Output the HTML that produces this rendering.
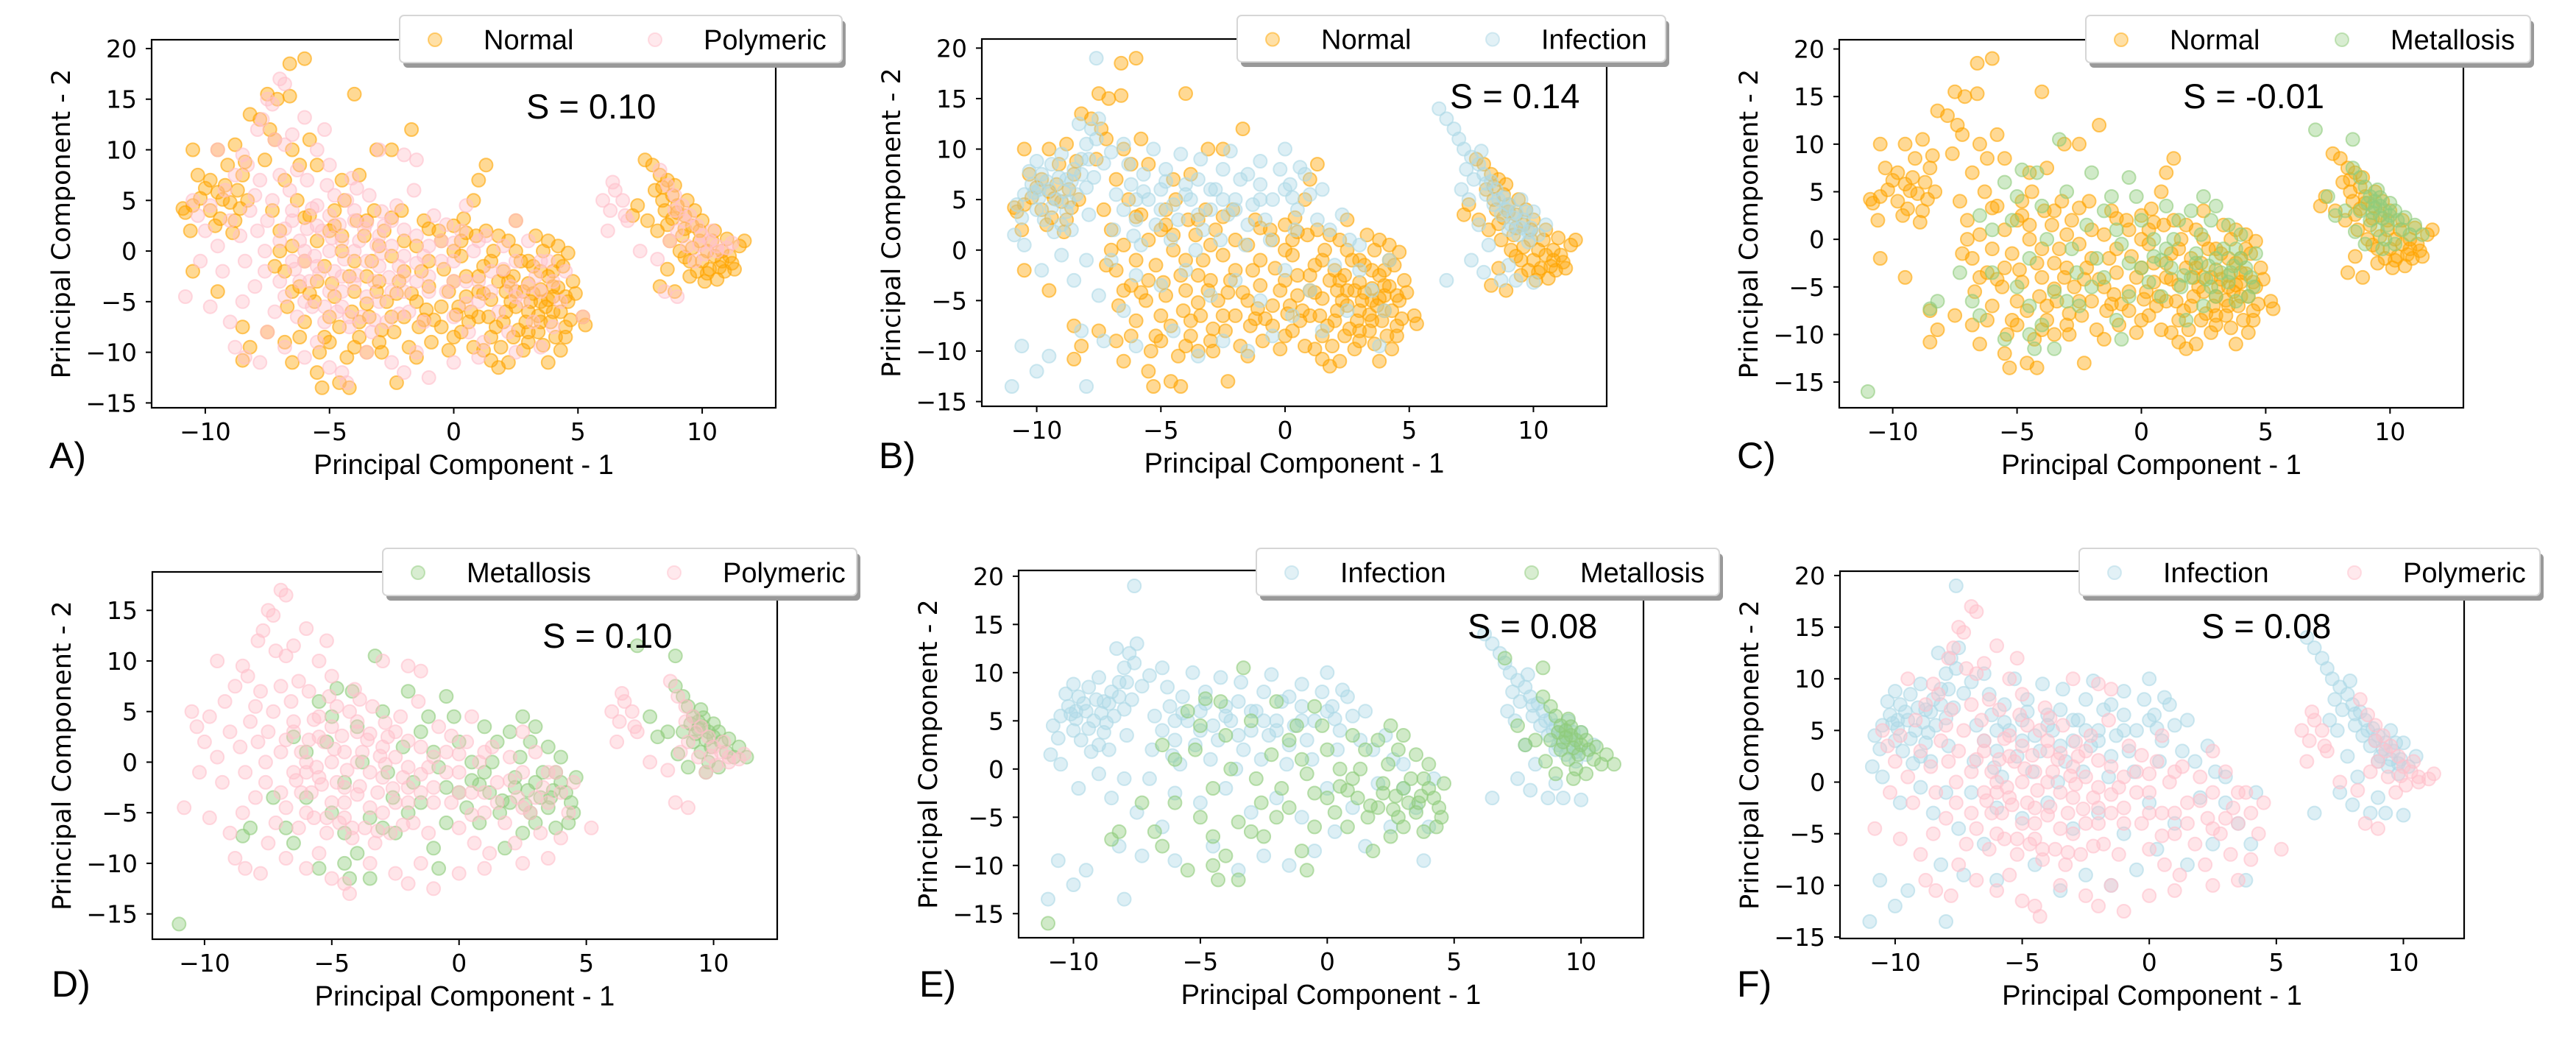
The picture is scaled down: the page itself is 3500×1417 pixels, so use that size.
<!DOCTYPE html>
<html><head><meta charset="utf-8">
<style>
html,body{margin:0;padding:0;background:#fff;}
svg{display:block;}
.tick{font-family:"DejaVu Sans",sans-serif;font-size:33px;fill:#000;}
.lab{font-family:"Liberation Sans",sans-serif;fill:#000;}
</style></head>
<body>
<svg id="fig" width="3500" height="1417" viewBox="0 0 3500 1417" xmlns="http://www.w3.org/2000/svg"></svg>
<script>
// ---- data (PC1, PC2 pairs) ----
const normalPts = [
-10.5,4.5,-10.2,5.2,-9.8,4,-9.5,5.8,-9.2,6.5,-9,4.8,-8.7,6,-8.5,7.5,-9.8,7,-10,6.2,-10.8,3.8,-10.6,2,-9.4,3.2,-8.8,3,-8.3,5,-9.1,8.5,-8.4,8.8,-10.3,7.5,-9.6,2.5,-8.9,1.8,-10.9,4.2,-9.3,5.1,-8.6,4.2,
-6.6,18.5,-6,19,-7.5,15.5,-7.1,15,-6.6,15.3,-8.2,13.5,-7.8,13,-7.4,12,-7.2,11,-8.8,10.5,-9.5,10,-10.5,10,-7.6,9,-6.5,10,-5.8,11,-6.2,8.5,-4,15.5,-1.7,12,-3.1,10,-2.5,10,-5.5,8.5,-4.5,7,-3.8,7.5,-6.8,7,1.3,8.5,1,7,0.8,5,
-10.5,-2,-9.5,-4,-8.5,-7.5,-8.2,-9.5,-8.5,-10.8,-7.5,-8,-6.8,-9,-6.5,-11,-5.5,-12,-5.3,-13.5,-4.6,-13,-4.2,-13.5,-2.3,-13,1.8,-11.5,2.2,-11,1.5,-10.8,3.8,-11,5.3,-7.3,5.2,-6.5,
-7,2,-6.5,0.5,-6.8,-2,-6.2,-3.5,-5.8,3.5,-5.5,1,-5.2,-1.5,-5.6,-5,-6,-7,-5.2,-8.5,-5.4,-10,-6.3,5,-7.3,4,-6.7,-5.5,
-4.8,2.5,-4.5,0,-4.2,-2.5,-4.8,-4.5,-4.1,-6,-4.6,-7.5,-3.8,-8.5,-3.5,-10,-4.3,-10.5,-3.2,4,-3.6,1.5,-3.3,-1,-3.1,-4,-3.4,-6.5,-2.9,-7.8,-3.9,3,-4.4,5,
-2.8,2,-2.5,-0.5,-2.2,-3,-2.7,-5,-2,-6.5,-2.4,-8,-1.8,-9.5,-1.5,-10.5,-2.9,-10,-1.2,3,-1.5,0.5,-1.3,-2,-1.7,-4.2,-1.1,-5.8,-1.4,-7.5,-2.1,4,-0.6,2,-0.9,-9,
-0.5,1,0,2.5,0.3,-0.5,0.5,-2.5,-0.2,-4,0.2,-5.5,0.6,-7,0,-8.5,0.8,-9.5,0.4,3.2,0.9,1.5,-0.4,-1.8,1,-4,0.7,-6,
1.3,2,1.6,0,1.2,-1.5,1.8,-3,1.5,-4.8,2.1,-6,1.7,-7.5,2.4,-8.5,1.9,-9.5,2.5,3,2.2,1,2.7,-1,2.4,-2.5,2.8,-4,2.5,-5.5,2.9,-7,3,-9,2.1,-4,
3.3,1.5,3.6,0,3.2,-1.5,3.8,-2.5,3.5,-3.8,4,-4.5,3.7,-5.5,4.3,-6,3.9,-7,4.5,-7.5,3.4,-8,4.1,-8.5,4.6,-5,4.8,-3,4.4,-1.5,4.2,0.5,3.1,-5,4.7,-6.8,4.9,-4.2,3.6,-9.3,4.3,-9.8,
3,-3.2,3.4,-6.4,4.2,-3.6,2.6,-7.8,3.8,-4.8,2.3,-5,4,-2,1.4,-6.5,0.3,-8,-0.8,-6.8,
-6,-1,-5.5,-3,-5,2,-5,-6.5,-4.5,1.5,-4,-1,-4,-4,-3.5,-2.5,-3.5,-5.2,-3,0.5,-3,-3,-2.5,-6.5,-2,1,-2,-2,-1.5,-5,-1,-1,-1,-3.5,-0.5,-5.5,-0.5,-7.5,0,0,0,-3,0.5,-4.5,0.5,1.8,1,-2.5,1,-6.5,1.5,-1,1.5,-8.5,2,-2,2,-7,2.5,0,2.5,-4,3,-1,3,-6,3,-8,3.5,-2,3.5,-5,3.5,-7,4,-3.5,4,-6,4.5,-4.5,4.5,-8.5,4.2,-1,2.8,-9.8,1.2,-9.8,-0.2,-9.8,-3,-9,-4,-9.5,-5,-9,-6.2,-8.5,-6.5,-4,-7,0,-7.2,-1.5,-6,3.3,-4.8,4,-3.5,3,-2.5,3.3,-1,2.2,0.3,1,1.8,1.5,3.8,1,4.6,-0.2,3.2,-4.2,2.2,-3,1.2,-4.2,0.1,-6.3,-1.2,-6.8,-2.3,-4.2,-3.8,-7,-4.9,-3.2,-5.8,-4.2,
8,8.5,8.3,7.5,8.6,7,8.1,6,8.8,5.5,9,4.5,8.5,4,9.3,3.5,9.6,2.5,9.2,1.5,9.9,1,10.2,0,10.5,-0.5,10.8,-1,11.2,-1.2,11.5,0.5,11.7,1,11,1.2,10.5,2,10,3,9.7,4,9.4,5,8.9,6.5,7.7,9,7.4,4.5,7.2,3.5,7.8,3,8.2,2,8.7,1,9.1,0,9.5,-1,9.8,-2,10.3,-1.8,10.9,-2,11.3,-1.8,8.3,-3.5,8.9,-4,9.5,-2.5,10.1,-3,10.6,-2.8,8.6,-1.8,9.3,-0.6,
8.4,5,8.8,3.2,9.3,2.2,9.6,0.3,10,-1,10.4,1,10.8,0,11.1,-0.5,9,3.8,8.4,6.3,9.9,2,10.7,-1.6,10.2,-2.2,8.6,2.6
];
const infectionPts = [
-10.8,4.5,-10.5,5.5,-10.2,6.5,-9.8,7.5,-9.5,6,-9.2,5,-9.4,8.5,-9,9.5,-8.8,7,-8.5,8,-8.2,9,-8,10.5,-7.8,12,-7.6,11,-7.5,13,-8.3,12.5,-10,4,-9.7,3,-9.9,5.2,-10.6,3.2,-10.9,1.5,-9,2.5,-8.7,4.8,-8.4,5.5,-8,6.2,-7.7,7.2,-7.3,8.6,-7,9.7,-6.5,10.5,-7.9,3.5,-9.3,1.8,-8.6,2,-10.3,7.8,-10,8.8,
-9.6,6.8,-9.1,7.2,-9.4,4.2,-8.9,5.8,-10.1,5.7,-8.6,6.8,-8.2,7.5,-7.9,9,-8.8,3.8,-9.9,6,
-6.8,5.5,-6.5,4,-6.2,6.5,-6,3,-5.7,7.5,-5.5,5,-5.2,2.5,-5,6,-4.8,8,-4.5,4.5,-4.3,3,-4,6.5,-3.8,5,-3.5,7,-3.3,2,-3,4,-2.8,6,-2.5,8,-2.3,3.5,-2,5,-1.8,7,-1.5,2.5,-1.3,4.5,-1,6.5,-0.8,3,-0.5,5,-0.2,8,0,10,0.2,6.5,0.5,4,0.8,7.5,1,5.5,1.3,3,1.5,6,-5.8,0.5,-4.6,1,-3.6,0,-2.6,1,-1.6,0.5,-0.6,1,0.4,2,1.8,2,2.3,3.5,2.6,1,-6.3,8.5,-5.3,10,-4.2,9.5,-3.4,9,-2.2,9.8,-1,8.8,0.6,8.2,-6.9,2,-6.1,1.4,
-6,5,-5,4,-4,5.5,-3,6,-2,4,-1,5,0,6,-3.5,3.5,-2.5,5,-4.8,6.8,-5.7,5.8,-1.5,7.5,0.3,5.2,
-7,-1,-6,-2.5,-5,-3.5,-4,-2,-3,-4.5,-2,-3,-1,-5,0,-2,1,-4,2,-1.5,3,-2,3.5,-4,4,-6,2.5,-6,1.5,-8,-0.5,-8.5,-2.5,-9,-4.5,-8,-6.5,-6,-7.5,-4.5,-8.5,-3,-8,-1,-9,-0.5,-10.5,0.5,-9.8,-2,-7.3,-9,-8.2,-8,-6,-9.5,-3.5,-10.5,-1.5,-10,3.8,-9.5,4.2,-1,3,0.5,0.3,-6.5,
-11,-13.5,-10,-12,-8,-13.5,-10.6,-9.5,-7.6,19,-9.5,-10.5,
6.2,14,6.5,13,6.8,12,7,11,7.2,10,7.5,9.2,7.8,8.5,8,7.5,8.3,6.8,8.5,6,8.8,5.2,9,4.5,9.3,3.8,9.6,3,9.9,2.2,10.2,1.5,7.3,8,7.6,7,8.1,5.5,8.4,4.5,8.7,3.5,9.1,2.5,9.4,1.5,9.8,0.8,10.5,2.5,10,3.8,9.5,5,7.9,9.8,7.1,6,7.4,5,7.8,2.5,8.2,0.5,6.5,-3,8,-2.2,8.7,-3,9.3,-3,10,-3.2,7.5,-1,9,-1.5,
8.9,4,9.2,3.2,9.5,2.2,8.6,5,8.1,6.6,9.8,1.8,9,2,9.7,3.8
];
const polymericPts = [
-7,17,-6.8,16.5,-7.3,14.5,-7.5,15,-7.7,13,-7.9,12,-7.2,11,-6.5,11.5,-6.8,10.5,-8.5,9.5,-9.5,10,-8.3,8.5,-5.5,10,-5,8.5,-3,10,-2,9.5,-1.5,9,-5.2,12,-6,13.2,
-10.5,5,-10.3,3.5,-10,2,-9.8,4.5,-9.5,0.5,-9.3,-2,-9,3,-9.2,6,-8.8,7.5,-8.6,1.5,-8.4,-1,-8.2,4,-8,-3.5,-8.5,-5,-10.8,-4.5,-9.8,-5.5,-9,-7,-8.8,-9.5,-8.4,-10.5,-7.8,-11,-7.5,-8,-7.2,-6,-7.6,-2,-7.9,2,-7.3,5,-7,7.5,-10.2,-1,
-6.5,3,-6.2,1,-6,-1,-5.8,-3,-5.5,4.5,-5.3,2,-5,0,-4.8,-2,-4.5,-4,-4.3,5,-4,3,-3.8,1,-3.5,-1,-3.2,-3,-3,-5,-2.8,2.5,-2.5,0.5,-2.2,-1.5,-2,-4,-1.8,-6,-1.5,1.5,-1.2,-0.5,-1,-2.5,-6.8,-4.5,-6.3,-6.5,-5.7,-5.5,-5.2,-7,-4.7,-6,-4.2,-7.5,-3.7,-6.5,-3.3,-8,-2.7,-7,-6.6,6,-5.9,7,-5.1,6.5,-4.1,7.2,-3.4,5.5,-2.3,4.5,-1.6,6,-0.8,3.5,-6.4,-1.8,-5.6,-0.5,-4.9,1.3,-4.4,-0.8,-3.9,-2.4,-3.6,2.2,-2.9,-0.2,-2.6,-2.6,-5.4,-2.2,-4.6,2.6,-3.1,0.6,-5.9,2.2,
-7.5,3,-7,1,-7,-3,-6.5,-1,-6.5,4,-6,0,-6,-5,-5.5,2.5,-5.5,-1.5,-5,3.5,-5,-4,-4.5,1,-4.5,-2.5,-4.5,-5.5,-4,0,-4,4,-4,-3.2,-3.5,-4.5,-3.5,2.8,-3,-1.5,-3,1.5,-2.5,-4,-2.5,3,-2,-0.5,-2,-2.5,-1.5,-3,-1.5,-1.2,-1,0.5,-1,-4,-0.5,-1,0,0.8,0,-3,0.5,-5.2,1,1,1,-3,1.5,-4,2,-1.8,2.5,-4.5,3,-3.5,3.5,-1,-6.2,-3,-5.2,-5.5,-4.2,-6.5,-3.2,-6.8,-2.2,-6.2,-1.2,-7,-6.8,2.2,-7.6,0,-8,5.5,-7.8,7,-6.3,8,-5.7,4.2,-4.8,5.5,-3.9,6.2,-2.9,3.9,-2,2.1,-0.3,2.6,
-0.5,1,0,-1,0.3,2,0.5,-3,0.8,0,1,-5,1.3,1.5,1.5,-2,1.8,-6,2,0.5,2.3,-3.5,2.5,-1,2.8,-5,3,1,3.3,-2.5,3.5,-4,3.8,-1,4,-3,4.3,-5,4.5,-2,0,-6.5,-0.3,-4,0.6,-8,1.2,-9,2.2,-8,3.2,-7,4,-7.5,5.2,-6.5,2.5,3,0.5,4.5,
-6.8,-9.5,-6,-10.5,-5,-11.5,-4.5,-12,-4.3,-13,-3.5,-10,-2.5,-11,-2,-12,-1,-12.5,0,-11,1,-10.5,-1.5,-10,2.5,-10,3.5,-9.5,-5.5,-9,
6,5,6.3,4,6.5,6,6.8,5,7,3,6.2,2,6.4,6.8,6.9,3.5,7.5,0,8.3,8,8.6,6.5,8.9,5.5,9.2,4.5,9.5,3.5,9.8,2.5,10,1.5,10.3,1,10.6,0.5,11,0.3,11.2,0.8,9,2,9.4,0.5,8.7,1,10.1,-0.3,8.5,-4,9,-4.5,8.2,-0.8,9.7,-1,
10.6,0,9.9,0.6,9.3,3,8.9,4,10.4,2
];
const metallosisPts = [
-11,-16,7,11.5,8.5,10.5,-3.3,10.5,-4.2,7,-4.8,7.3,-2,7,-0.5,6.5,-0.2,4.5,
-8.5,-7.3,-8.2,-6.5,-7.3,-3.5,-6.8,-6.5,-6.5,-8,-6,-3.5,-5.5,6,-5,4.5,-5.5,-10.5,-4.5,-10,-4.3,-11.5,-3.5,-11.5,-4,-9,-3,-6.5,-2.5,-7,-2,-5,-1.5,3,-1.2,4.5,-1,-8.5,-0.8,-10.5,-0.5,-6,0,-3,0.5,0,1,-1,1.5,2,2,-4,2.5,4.5,2.8,2,3,-2,3.5,-4.5,3.8,-1,4,0.5,4.2,-3,4.5,-5,4.6,-1.5,1.8,-8.5,2.5,-7,3,-6,-1.8,-2,-2.8,-1,-3.8,0,-4.5,-2,-5,-5,-6,1,-6.5,2.5,-5.2,2,-4,3.5,-3,5,-2.2,1.5,-1,1,0,2,1,3.5,2,3,3,3.5,3.5,1.5,4,-2,2.2,-1.5,1.2,-3,0.3,-4.5,-0.5,-2.5,-1.5,-4,-2.6,-3.5,-3.5,-5.5,-4.5,-7,0.8,-6,1.6,-5,2.8,-5,3.8,-6.5,4.3,-6,2.4,0.5,1.3,0,0.5,-1.8,-0.8,-0.5,3.2,-3.5,3.7,-2.8,4.4,-4,2.7,-2.8,
2.2,-2.5,3.3,-1,1.7,-3.8,3.6,-3.5,0.8,-2.2,2.6,-4.2,
7.5,4.5,7.8,2.5,8.2,3,8.5,7.5,8.8,6.5,9,5.5,9.2,4.5,9.4,4,9.6,3.5,9.8,3,10,2.5,10.3,2,10.5,1,10.8,0.5,11,1.5,11.3,0.5,9.2,2,9.5,1,9.8,0,10.2,-0.5,9,-0.5,8.6,0.8,9.5,5.2,10,3.8,8.8,3,9.3,2.8,10.6,2.3,9.7,-1,
9.4,3.3,9.7,2.2,9.1,3.8,9.9,1.5,10.2,3,9.6,4.4
];
const xTicks = [-10,-5,0,5,10];
const yTicksTop = [-15,-10,-5,0,5,10,15,20];
const yTicksD = [-15,-10,-5,0,5,10,15];
const scores = ["S = 0.10","S = 0.14","S = -0.01","S = 0.10","S = 0.08","S = 0.08"];

const classes = {
  Normal:{pts:normalPts,color:"#FFA500"},
  Infection:{pts:infectionPts,color:"#ADD8E6"},
  Polymeric:{pts:polymericPts,color:"#FFC0CB"},
  Metallosis:{pts:metallosisPts,color:"#8fcc7c"}
};

// ---- layout ----
const panels = [
 {id:"a",letter:"A)",box:[206,54,1054,554],xr:[-12.16,12.96],yr:[-15.48,20.87],yt:yTicksTop,leg:[543,21,1144,85],c2:347,cls:["Normal","Polymeric"],s:[715,161],lt:[67,636],yl:83},
 {id:"b",letter:"B)",box:[1334,53,2183,552],xr:[-12.21,12.95],yr:[-15.47,20.9],yt:yTicksTop,leg:[1681,21,2263,84],c2:347,cls:["Normal","Infection"],s:[1970,147],lt:[1194,636],yl:1211},
 {id:"c",letter:"C)",box:[2499,54,3347,554],xr:[-12.15,12.95],yr:[-17.7,20.97],yt:yTicksTop,leg:[2834,21,3438,85],c2:348,cls:["Normal","Metallosis"],s:[2966,147],lt:[2360,636],yl:2376},
 {id:"d",letter:"D)",box:[207,777,1056,1276],xr:[-12.05,12.5],yr:[-17.5,18.8],yt:yTicksD,leg:[520,745,1164,809],c2:396,cls:["Metallosis","Polymeric"],s:[737,880],lt:[70,1354],yl:84},
 {id:"e",letter:"E)",box:[1384,775,2233,1274],xr:[-12.16,12.46],yr:[-17.5,20.6],yt:yTicksTop,leg:[1707,745,2336,809],c2:374,cls:["Infection","Metallosis"],s:[1994,867],lt:[1249,1354],yl:1261},
 {id:"f",letter:"F)",box:[2500,776,3348,1275],xr:[-12.17,12.39],yr:[-15.14,20.42],yt:yTicksTop,leg:[2825,745,3451,809],c2:374,cls:["Infection","Polymeric"],s:[2991,867],lt:[2360,1354],yl:2377}
];

const NS="http://www.w3.org/2000/svg";
const svg=document.getElementById("fig");
function mk(tag,attrs,parent,text){
  const e=document.createElementNS(NS,tag);
  for(const k in attrs) e.setAttribute(k,attrs[k]);
  if(text!==undefined) e.textContent=text;
  parent.appendChild(e); return e;
}

panels.forEach((p,pi)=>{
  const [x0,y0,x1,y1]=p.box;
  const sx=v=>x0+(v-p.xr[0])/(p.xr[1]-p.xr[0])*(x1-x0);
  const sy=v=>y1-(v-p.yr[0])/(p.yr[1]-p.yr[0])*(y1-y0);
  const g=mk("g",{},svg);
  
  

  p.cls.forEach(cn=>{
    const c=classes[cn];
    const sg=mk("g",{fill:c.color,stroke:c.color,"fill-opacity":"0.42","stroke-opacity":"0.6","stroke-width":"2"},g);
    
    
    for(let i=0;i<c.pts.length;i+=2){
      const pt=mk("circle",{cx:sx(c.pts[i]).toFixed(1),cy:sy(c.pts[i+1]).toFixed(1),r:"9"},sg);
      
      
    }
  });

  const fr=mk("rect",{x:x0,y:y0,width:x1-x0,height:y1-y0,fill:"none",stroke:"#000","stroke-width":"2.2"},g);
  
  

  const xg=mk("g",{},g);
  
  
  xTicks.forEach(t=>{
    const X=sx(t);
    mk("line",{x1:X,y1:y1,x2:X,y2:y1+8,stroke:"#000","stroke-width":"2"},xg);
    const tl=mk("text",{x:X,y:y1+44,"text-anchor":"middle",class:"tick"},xg,(t<0?"\u2212":"")+Math.abs(t));
    
    
  });
  const yg=mk("g",{},g);
  
  
  p.yt.forEach(t=>{
    const Y=sy(t);
    mk("line",{x1:x0-8,y1:Y,x2:x0,y2:Y,stroke:"#000","stroke-width":"2"},yg);
    const tl=mk("text",{x:x0-20,y:Y+12,"text-anchor":"end",class:"tick"},yg,(t<0?"\u2212":"")+Math.abs(t));
    
    
  });

  const xt=mk("text",{x:(x0+x1)/2,y:y1+90,"text-anchor":"middle",class:"lab","font-size":"38"},g,"Principal Component - 1");
  
  
  const ycy=(y0+y1)/2;
  const yt=mk("text",{x:p.yl+12,y:ycy,"text-anchor":"middle",transform:`rotate(-90 ${p.yl+12} ${ycy})`,style:"font-family:'DejaVu Sans',sans-serif;font-size:35px"},g,"Principal Component - 2");
  
  

  const st=mk("text",{x:p.s[0],y:p.s[1],class:"lab","font-size":"47"},g,scores[pi]);
  
  

  const lt=mk("text",{x:p.lt[0],y:p.lt[1],class:"lab","font-size":"50"},g,p.letter);
  
  

  const [lx0,ly0,lx1,ly1]=p.leg;
  const lg=mk("g",{},g);
  
  
  mk("rect",{x:lx0+5,y:ly0+7,width:lx1-lx0,height:ly1-ly0,rx:6,fill:"#999"},lg);
  mk("rect",{x:lx0,y:ly0,width:lx1-lx0,height:ly1-ly0,rx:6,fill:"#fff",stroke:"#d6d6d6","stroke-width":"2"},lg);
  const cy=(ly0+ly1)/2;
  p.cls.forEach((cn,k)=>{
    const mx=k===0?lx0+48:lx0+p.c2;
    const c=classes[cn];
    const m=mk("circle",{cx:mx,cy:cy+1,r:"9",fill:c.color,stroke:c.color,"fill-opacity":"0.35","stroke-opacity":"0.5","stroke-width":"2"},lg);
    
    
    const t=mk("text",{x:mx+66,y:cy+14,class:"lab","font-size":"38"},lg,cn);
    
    
  });
});
</script>
</body></html>
